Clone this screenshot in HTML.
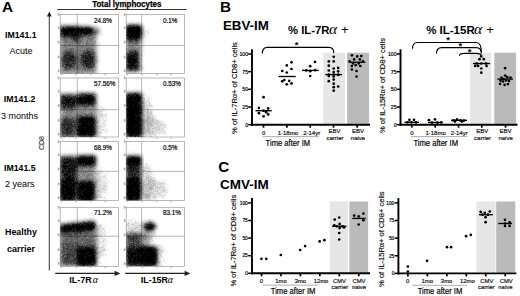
<!DOCTYPE html>
<html><head><meta charset="utf-8"><style>
html,body{margin:0;padding:0;background:#fff;width:520px;height:296px;overflow:hidden}
svg{display:block}

</style></head><body>
<svg width="520" height="296" viewBox="0 0 520 296">
<defs>
<filter id="bl" x="-20%" y="-20%" width="140%" height="140%" color-interpolation-filters="sRGB"><feGaussianBlur in="SourceAlpha" stdDeviation="1.9" result="d"/><feTurbulence type="fractalNoise" baseFrequency="0.9" numOctaves="2" seed="5" result="t"/><feColorMatrix in="t" type="matrix" values="0 0 0 0 0  0 0 0 0 0  0 0 0 0 0  2 0 0 0 -0.5" result="n"/><feComposite in="d" in2="n" operator="arithmetic" k1="1.2" k2="0.8" k3="0" k4="0" result="c"/><feColorMatrix in="c" type="matrix" values="0 0 0 0 0  0 0 0 0 0  0 0 0 0 0  0 0 0 1 0" result="e"/><feGaussianBlur in="e" stdDeviation="0.8" result="eb"/><feComposite in="e" in2="eb" operator="arithmetic" k1="0" k2="0.45" k3="0.55" k4="0"/></filter>
<filter id="sp" x="-20%" y="-20%" width="140%" height="140%" color-interpolation-filters="sRGB"><feGaussianBlur in="SourceAlpha" stdDeviation="2.2" result="d"/><feTurbulence type="fractalNoise" baseFrequency="0.95" numOctaves="2" seed="11" result="t"/><feColorMatrix in="t" type="matrix" values="0 0 0 0 0  0 0 0 0 0  0 0 0 0 0  1.875 0 0 0 -0.5125" result="n"/><feComposite in="d" in2="n" operator="arithmetic" k1="0" k2="4" k3="-4" k4="0" result="c"/><feColorMatrix in="c" type="matrix" values="0 0 0 0 0  0 0 0 0 0  0 0 0 0 0  0 0 0 0.26 0" result="e"/><feGaussianBlur in="e" stdDeviation="0.8" result="eb"/><feComposite in="e" in2="eb" operator="arithmetic" k1="0" k2="0.4" k3="0.9" k4="0"/></filter>
<clipPath id="cp00"><rect x="60.2" y="14.6" width="58.2" height="59.0"/></clipPath>
<clipPath id="cp01"><rect x="126.2" y="14.6" width="58.2" height="59.0"/></clipPath>
<clipPath id="cp10"><rect x="60.2" y="78.0" width="58.2" height="59.0"/></clipPath>
<clipPath id="cp11"><rect x="126.2" y="78.0" width="58.2" height="59.0"/></clipPath>
<clipPath id="cp20"><rect x="60.2" y="141.5" width="58.2" height="59.0"/></clipPath>
<clipPath id="cp21"><rect x="126.2" y="141.5" width="58.2" height="59.0"/></clipPath>
<clipPath id="cp30"><rect x="60.2" y="207.3" width="58.2" height="59.0"/></clipPath>
<clipPath id="cp31"><rect x="126.2" y="207.3" width="58.2" height="59.0"/></clipPath>
</defs>
<rect x="0" y="0" width="520" height="296" fill="#fff"/>
<text x="1.9" y="12.0" font-size="15.3" font-weight="bold" text-anchor="start" fill="#000" font-family="Liberation Sans" >A</text>
<text x="92.2" y="6.7" font-size="8.7" font-weight="bold" text-anchor="start" fill="#000" font-family="Liberation Sans" textLength="69.3" lengthAdjust="spacingAndGlyphs" stroke="#000" stroke-width="0.25">Total lymphocytes</text>
<line x1="57.2" y1="9.5" x2="186.6" y2="9.5" stroke="#333" stroke-width="1"/>
<rect x="60.2" y="14.6" width="58.2" height="59.0" fill="none" stroke="#9a9a9a" stroke-width="0.7"/>
<line x1="77.3" y1="14.6" x2="77.3" y2="73.6" stroke="#9a9a9a" stroke-width="0.7"/>
<line x1="60.2" y1="45.5" x2="118.4" y2="45.5" stroke="#9a9a9a" stroke-width="0.7"/>
<g clip-path="url(#cp00)">
<g filter="url(#sp)">
<rect x="58" y="30" width="39" height="44" fill="#000" opacity="0.38"/>
<ellipse cx="100" cy="38" rx="4" ry="8" fill="#000" opacity="0.3"/>
</g>
<g filter="url(#bl)">
<rect x="60" y="30" width="36" height="44" fill="#000" opacity="0.323"/>
<ellipse cx="69" cy="60" rx="8" ry="9" fill="#000" opacity="0.425"/>
<ellipse cx="88.5" cy="59.6" rx="8" ry="9" fill="#000" opacity="0.468"/>
<rect x="60" y="26.8" width="18" height="7.199999999999999" fill="#000" opacity="1"/>
<rect x="60" y="32" width="18" height="5.5" fill="#000" opacity="0.468"/>
<rect x="78" y="27.3" width="14" height="6.699999999999999" fill="#000" opacity="0.95"/>
<rect x="90" y="28" width="9" height="6" fill="#000" opacity="0.383"/>
<rect x="74" y="33" width="6" height="8" fill="#000" opacity="0.51"/>
</g>
</g>
<text x="94.0" y="22.75" font-size="6.3" font-weight="normal" text-anchor="start" fill="#000" font-family="Liberation Sans" stroke="#000" stroke-width="0.18">24.8%</text>
<rect x="57.800000000000004" y="13.299999999999999" width="1.6" height="2.6" fill="#aaa"/>
<rect x="57.800000000000004" y="26.599999999999998" width="1.6" height="2.6" fill="#aaa"/>
<rect x="57.800000000000004" y="40.800000000000004" width="1.6" height="2.6" fill="#aaa"/>
<rect x="57.800000000000004" y="55.7" width="1.6" height="2.6" fill="#aaa"/>
<rect x="57.800000000000004" y="69.5" width="1.6" height="2.6" fill="#aaa"/>
<rect x="60.7" y="73.89999999999999" width="1.6" height="1.4" fill="#bbb"/>
<rect x="75.3" y="73.89999999999999" width="1.6" height="1.4" fill="#bbb"/>
<rect x="89.9" y="73.89999999999999" width="1.6" height="1.4" fill="#bbb"/>
<rect x="104.5" y="73.89999999999999" width="1.6" height="1.4" fill="#bbb"/>
<rect x="126.2" y="14.6" width="58.2" height="59.0" fill="none" stroke="#9a9a9a" stroke-width="0.7"/>
<line x1="141.6" y1="14.6" x2="141.6" y2="73.6" stroke="#9a9a9a" stroke-width="0.7"/>
<line x1="126.2" y1="45.5" x2="184.4" y2="45.5" stroke="#9a9a9a" stroke-width="0.7"/>
<g clip-path="url(#cp01)">
<g filter="url(#sp)">
<rect x="126" y="36" width="17" height="36" fill="#000" opacity="0.35"/>
<ellipse cx="146" cy="33" rx="5" ry="6" fill="#000" opacity="0.35"/>
</g>
<g filter="url(#bl)">
<rect x="126" y="39" width="15" height="13" fill="#000" opacity="0.297"/>
<rect x="126" y="25.6" width="15.5" height="11.899999999999999" fill="#000" opacity="1"/>
<rect x="126" y="37" width="15" height="4.5" fill="#000" opacity="0.51"/>
<rect x="126" y="51.5" width="13.5" height="19.5" fill="#000" opacity="0.722"/>
<ellipse cx="131.5" cy="60.5" rx="5" ry="6" fill="#000" opacity="0.51"/>
</g>
</g>
<text x="163.0" y="22.75" font-size="6.3" font-weight="normal" text-anchor="start" fill="#000" font-family="Liberation Sans" stroke="#000" stroke-width="0.18">0.1%</text>
<rect x="123.8" y="13.299999999999999" width="1.6" height="2.6" fill="#aaa"/>
<rect x="123.8" y="26.599999999999998" width="1.6" height="2.6" fill="#aaa"/>
<rect x="123.8" y="40.800000000000004" width="1.6" height="2.6" fill="#aaa"/>
<rect x="123.8" y="55.7" width="1.6" height="2.6" fill="#aaa"/>
<rect x="123.8" y="69.5" width="1.6" height="2.6" fill="#aaa"/>
<rect x="126.7" y="73.89999999999999" width="1.6" height="1.4" fill="#bbb"/>
<rect x="141.3" y="73.89999999999999" width="1.6" height="1.4" fill="#bbb"/>
<rect x="155.9" y="73.89999999999999" width="1.6" height="1.4" fill="#bbb"/>
<rect x="170.5" y="73.89999999999999" width="1.6" height="1.4" fill="#bbb"/>
<rect x="60.2" y="78.0" width="58.2" height="59.0" fill="none" stroke="#9a9a9a" stroke-width="0.7"/>
<line x1="77.3" y1="78.0" x2="77.3" y2="137.0" stroke="#9a9a9a" stroke-width="0.7"/>
<line x1="60.2" y1="109.7" x2="118.4" y2="109.7" stroke="#9a9a9a" stroke-width="0.7"/>
<g clip-path="url(#cp10)">
<g filter="url(#sp)">
<rect x="60" y="100" width="39" height="37" fill="#000" opacity="0.4"/>
<ellipse cx="101" cy="122" rx="6" ry="16" fill="#000" opacity="0.42"/>
</g>
<g filter="url(#bl)">
<rect x="60" y="107" width="36" height="30" fill="#000" opacity="0.281"/>
<rect x="60" y="94.5" width="16" height="13.5" fill="#000" opacity="0.722"/>
<rect x="78" y="93.8" width="17.5" height="11.700000000000003" fill="#000" opacity="0.9"/>
<rect x="76" y="96" width="2" height="10" fill="#000" opacity="0.34"/>
<rect x="60" y="118" width="15" height="19" fill="#000" opacity="0.425"/>
<rect x="78" y="117" width="17" height="20" fill="#000" opacity="0.95"/>
</g>
</g>
<text x="94.0" y="86.15" font-size="6.3" font-weight="normal" text-anchor="start" fill="#000" font-family="Liberation Sans" stroke="#000" stroke-width="0.18">57.56%</text>
<rect x="57.800000000000004" y="76.7" width="1.6" height="2.6" fill="#aaa"/>
<rect x="57.800000000000004" y="90.0" width="1.6" height="2.6" fill="#aaa"/>
<rect x="57.800000000000004" y="104.2" width="1.6" height="2.6" fill="#aaa"/>
<rect x="57.800000000000004" y="119.10000000000001" width="1.6" height="2.6" fill="#aaa"/>
<rect x="57.800000000000004" y="132.89999999999998" width="1.6" height="2.6" fill="#aaa"/>
<rect x="60.7" y="137.3" width="1.6" height="1.4" fill="#bbb"/>
<rect x="75.3" y="137.3" width="1.6" height="1.4" fill="#bbb"/>
<rect x="89.9" y="137.3" width="1.6" height="1.4" fill="#bbb"/>
<rect x="104.5" y="137.3" width="1.6" height="1.4" fill="#bbb"/>
<rect x="126.2" y="78.0" width="58.2" height="59.0" fill="none" stroke="#9a9a9a" stroke-width="0.7"/>
<line x1="141.6" y1="78.0" x2="141.6" y2="137.0" stroke="#9a9a9a" stroke-width="0.7"/>
<line x1="126.2" y1="109.7" x2="184.4" y2="109.7" stroke="#9a9a9a" stroke-width="0.7"/>
<g clip-path="url(#cp11)">
<g filter="url(#sp)">
<ellipse cx="146" cy="117" rx="7" ry="22" fill="#000" opacity="0.56"/>
<ellipse cx="153" cy="127" rx="14" ry="11" fill="#000" opacity="0.5"/>
</g>
<g filter="url(#bl)">
<rect x="126" y="93.6" width="15.5" height="43.400000000000006" fill="#000" opacity="1"/>
</g>
</g>
<text x="163.0" y="86.15" font-size="6.3" font-weight="normal" text-anchor="start" fill="#000" font-family="Liberation Sans" stroke="#000" stroke-width="0.18">0.53%</text>
<rect x="123.8" y="76.7" width="1.6" height="2.6" fill="#aaa"/>
<rect x="123.8" y="90.0" width="1.6" height="2.6" fill="#aaa"/>
<rect x="123.8" y="104.2" width="1.6" height="2.6" fill="#aaa"/>
<rect x="123.8" y="119.10000000000001" width="1.6" height="2.6" fill="#aaa"/>
<rect x="123.8" y="132.89999999999998" width="1.6" height="2.6" fill="#aaa"/>
<rect x="126.7" y="137.3" width="1.6" height="1.4" fill="#bbb"/>
<rect x="141.3" y="137.3" width="1.6" height="1.4" fill="#bbb"/>
<rect x="155.9" y="137.3" width="1.6" height="1.4" fill="#bbb"/>
<rect x="170.5" y="137.3" width="1.6" height="1.4" fill="#bbb"/>
<rect x="60.2" y="141.5" width="58.2" height="59.0" fill="none" stroke="#9a9a9a" stroke-width="0.7"/>
<line x1="77.3" y1="141.5" x2="77.3" y2="200.5" stroke="#9a9a9a" stroke-width="0.7"/>
<line x1="60.2" y1="171.4" x2="118.4" y2="171.4" stroke="#9a9a9a" stroke-width="0.7"/>
<g clip-path="url(#cp20)">
<g filter="url(#sp)">
<rect x="60" y="160" width="39" height="41" fill="#000" opacity="0.35"/>
<ellipse cx="101" cy="186" rx="7" ry="16" fill="#000" opacity="0.45"/>
</g>
<g filter="url(#bl)">
<rect x="76" y="166" width="19" height="17" fill="#000" opacity="0.297"/>
<rect x="60" y="156.5" width="17" height="11.0" fill="#000" opacity="0.722"/>
<rect x="78" y="156" width="17.5" height="9.5" fill="#000" opacity="1"/>
<rect x="60" y="166" width="16" height="35" fill="#000" opacity="0.68"/>
<rect x="60" y="180" width="16" height="21" fill="#000" opacity="0.68"/>
<rect x="78" y="182" width="16.5" height="19" fill="#000" opacity="1"/>
</g>
</g>
<text x="94.0" y="149.65" font-size="6.3" font-weight="normal" text-anchor="start" fill="#000" font-family="Liberation Sans" stroke="#000" stroke-width="0.18">68.9%</text>
<rect x="57.800000000000004" y="140.2" width="1.6" height="2.6" fill="#aaa"/>
<rect x="57.800000000000004" y="153.5" width="1.6" height="2.6" fill="#aaa"/>
<rect x="57.800000000000004" y="167.7" width="1.6" height="2.6" fill="#aaa"/>
<rect x="57.800000000000004" y="182.6" width="1.6" height="2.6" fill="#aaa"/>
<rect x="57.800000000000004" y="196.39999999999998" width="1.6" height="2.6" fill="#aaa"/>
<rect x="60.7" y="200.8" width="1.6" height="1.4" fill="#bbb"/>
<rect x="75.3" y="200.8" width="1.6" height="1.4" fill="#bbb"/>
<rect x="89.9" y="200.8" width="1.6" height="1.4" fill="#bbb"/>
<rect x="104.5" y="200.8" width="1.6" height="1.4" fill="#bbb"/>
<rect x="126.2" y="141.5" width="58.2" height="59.0" fill="none" stroke="#9a9a9a" stroke-width="0.7"/>
<line x1="141.6" y1="141.5" x2="141.6" y2="200.5" stroke="#9a9a9a" stroke-width="0.7"/>
<line x1="126.2" y1="171.4" x2="184.4" y2="171.4" stroke="#9a9a9a" stroke-width="0.7"/>
<g clip-path="url(#cp21)">
<g filter="url(#sp)">
<ellipse cx="146" cy="182" rx="7" ry="20" fill="#000" opacity="0.54"/>
<ellipse cx="154" cy="189" rx="14" ry="12" fill="#000" opacity="0.5"/>
</g>
<g filter="url(#bl)">
<rect x="126" y="156.5" width="15" height="9.0" fill="#000" opacity="1"/>
<rect x="126" y="165" width="15" height="15" fill="#000" opacity="0.637"/>
<rect x="126" y="179" width="14.5" height="22" fill="#000" opacity="1"/>
</g>
</g>
<text x="163.0" y="149.65" font-size="6.3" font-weight="normal" text-anchor="start" fill="#000" font-family="Liberation Sans" stroke="#000" stroke-width="0.18">0.5%</text>
<rect x="123.8" y="140.2" width="1.6" height="2.6" fill="#aaa"/>
<rect x="123.8" y="153.5" width="1.6" height="2.6" fill="#aaa"/>
<rect x="123.8" y="167.7" width="1.6" height="2.6" fill="#aaa"/>
<rect x="123.8" y="182.6" width="1.6" height="2.6" fill="#aaa"/>
<rect x="123.8" y="196.39999999999998" width="1.6" height="2.6" fill="#aaa"/>
<rect x="126.7" y="200.8" width="1.6" height="1.4" fill="#bbb"/>
<rect x="141.3" y="200.8" width="1.6" height="1.4" fill="#bbb"/>
<rect x="155.9" y="200.8" width="1.6" height="1.4" fill="#bbb"/>
<rect x="170.5" y="200.8" width="1.6" height="1.4" fill="#bbb"/>
<rect x="60.2" y="207.3" width="58.2" height="59.0" fill="none" stroke="#9a9a9a" stroke-width="0.7"/>
<line x1="77.3" y1="207.3" x2="77.3" y2="266.3" stroke="#9a9a9a" stroke-width="0.7"/>
<line x1="60.2" y1="236.20000000000002" x2="118.4" y2="236.20000000000002" stroke="#9a9a9a" stroke-width="0.7"/>
<g clip-path="url(#cp30)">
<g filter="url(#sp)">
<rect x="60" y="222" width="39" height="44" fill="#000" opacity="0.4"/>
<ellipse cx="101" cy="243" rx="6" ry="20" fill="#000" opacity="0.42"/>
</g>
<g filter="url(#bl)">
<rect x="60" y="231" width="36" height="35" fill="#000" opacity="0.408"/>
<rect x="60" y="245" width="17" height="21" fill="#000" opacity="0.17"/>
<polygon points="60,225 77,223.3 77,231 60,232.2" fill="#000" opacity="0.9"/>
<polygon points="77,223.5 94,221.3 96,229.5 77,231" fill="#000" opacity="1"/>
<rect x="78" y="248" width="17.5" height="18" fill="#000" opacity="0.97"/>
</g>
</g>
<text x="94.0" y="215.45" font-size="6.3" font-weight="normal" text-anchor="start" fill="#000" font-family="Liberation Sans" stroke="#000" stroke-width="0.18">71.2%</text>
<rect x="57.800000000000004" y="206.0" width="1.6" height="2.6" fill="#aaa"/>
<rect x="57.800000000000004" y="219.3" width="1.6" height="2.6" fill="#aaa"/>
<rect x="57.800000000000004" y="233.5" width="1.6" height="2.6" fill="#aaa"/>
<rect x="57.800000000000004" y="248.4" width="1.6" height="2.6" fill="#aaa"/>
<rect x="57.800000000000004" y="262.2" width="1.6" height="2.6" fill="#aaa"/>
<rect x="60.7" y="266.6" width="1.6" height="1.4" fill="#bbb"/>
<rect x="75.3" y="266.6" width="1.6" height="1.4" fill="#bbb"/>
<rect x="89.9" y="266.6" width="1.6" height="1.4" fill="#bbb"/>
<rect x="104.5" y="266.6" width="1.6" height="1.4" fill="#bbb"/>
<rect x="126.2" y="207.3" width="58.2" height="59.0" fill="none" stroke="#9a9a9a" stroke-width="0.7"/>
<line x1="141.6" y1="207.3" x2="141.6" y2="266.3" stroke="#9a9a9a" stroke-width="0.7"/>
<line x1="126.2" y1="236.20000000000002" x2="184.4" y2="236.20000000000002" stroke="#9a9a9a" stroke-width="0.7"/>
<g clip-path="url(#cp31)">
<g filter="url(#sp)">
<rect x="126" y="220" width="30" height="22" fill="#000" opacity="0.5"/>
<ellipse cx="160" cy="255" rx="6" ry="11" fill="#000" opacity="0.42"/>
</g>
<g filter="url(#bl)">
<rect x="126" y="233" width="15" height="33" fill="#000" opacity="0.527"/>
<rect x="126" y="248" width="15" height="18" fill="#000" opacity="0.595"/>
<rect x="141" y="232" width="9" height="15" fill="#000" opacity="0.255"/>
<ellipse cx="149.5" cy="226.6" rx="6" ry="3.4" fill="#000" opacity="1"/>
<rect x="141" y="247" width="16" height="19" fill="#000" opacity="1"/>
</g>
</g>
<text x="163.0" y="215.45" font-size="6.3" font-weight="normal" text-anchor="start" fill="#000" font-family="Liberation Sans" stroke="#000" stroke-width="0.18">83.1%</text>
<rect x="123.8" y="206.0" width="1.6" height="2.6" fill="#aaa"/>
<rect x="123.8" y="219.3" width="1.6" height="2.6" fill="#aaa"/>
<rect x="123.8" y="233.5" width="1.6" height="2.6" fill="#aaa"/>
<rect x="123.8" y="248.4" width="1.6" height="2.6" fill="#aaa"/>
<rect x="123.8" y="262.2" width="1.6" height="2.6" fill="#aaa"/>
<rect x="126.7" y="266.6" width="1.6" height="1.4" fill="#bbb"/>
<rect x="141.3" y="266.6" width="1.6" height="1.4" fill="#bbb"/>
<rect x="155.9" y="266.6" width="1.6" height="1.4" fill="#bbb"/>
<rect x="170.5" y="266.6" width="1.6" height="1.4" fill="#bbb"/>
<line x1="49.3" y1="15" x2="49.3" y2="270.6" stroke="#444" stroke-width="1.1"/>
<path d="M49.3 11.6 L46.9 16.4 L51.7 16.4 Z" fill="#222"/>
<text x="0" y="0" font-size="6.4" font-weight="normal" text-anchor="middle" fill="#000" font-family="Liberation Sans" transform="translate(44.3 143.1) rotate(-90)" textLength="13.9" lengthAdjust="spacingAndGlyphs">CD8</text>
<text x="5" y="37.8" font-size="9.3" font-weight="bold" text-anchor="start" fill="#000" font-family="Liberation Sans" textLength="31.6" lengthAdjust="spacingAndGlyphs">IM141.1</text>
<text x="9.4" y="53.8" font-size="9" font-weight="normal" text-anchor="start" fill="#000" font-family="Liberation Sans" >Acute</text>
<text x="3.8" y="102.3" font-size="9.3" font-weight="bold" text-anchor="start" fill="#000" font-family="Liberation Sans" textLength="31.6" lengthAdjust="spacingAndGlyphs">IM141.2</text>
<text x="1" y="118.5" font-size="9" font-weight="normal" text-anchor="start" fill="#000" font-family="Liberation Sans" >3 months</text>
<text x="4" y="170.6" font-size="9.3" font-weight="bold" text-anchor="start" fill="#000" font-family="Liberation Sans" textLength="31.6" lengthAdjust="spacingAndGlyphs">IM141.5</text>
<text x="5" y="187.1" font-size="9" font-weight="normal" text-anchor="start" fill="#000" font-family="Liberation Sans" >2 years</text>
<text x="5" y="235.3" font-size="9.3" font-weight="bold" text-anchor="start" fill="#000" font-family="Liberation Sans" textLength="31.9" lengthAdjust="spacingAndGlyphs">Healthy</text>
<text x="6.9" y="251.5" font-size="9.3" font-weight="bold" text-anchor="start" fill="#000" font-family="Liberation Sans" textLength="28" lengthAdjust="spacingAndGlyphs">carrier</text>
<line x1="55.2" y1="273.4" x2="116" y2="273.4" stroke="#222" stroke-width="1.2"/>
<path d="M120.4 273.4 L114.6 270.8 L114.6 276 Z" fill="#222"/>
<line x1="125.2" y1="273.4" x2="186" y2="273.4" stroke="#222" stroke-width="1.2"/>
<path d="M190.4 273.4 L184.6 270.8 L184.6 276 Z" fill="#222"/>
<text x="69.2" y="282.5" font-size="8.4" font-weight="bold" text-anchor="start" fill="#000" font-family="Liberation Sans" textLength="22.6" lengthAdjust="spacingAndGlyphs">IL-7R</text>
<text x="92.7" y="282.5" font-size="10" font-weight="normal" text-anchor="start" fill="#000" font-family="Liberation Serif" font-style="italic">α</text>
<text x="140.8" y="282.5" font-size="8.4" font-weight="bold" text-anchor="start" fill="#000" font-family="Liberation Sans" textLength="27.2" lengthAdjust="spacingAndGlyphs">IL-15R</text>
<text x="167.8" y="282.5" font-size="10" font-weight="normal" text-anchor="start" fill="#000" font-family="Liberation Serif" font-style="italic">α</text>
<text x="220.0" y="12.1" font-size="15.3" font-weight="bold" text-anchor="start" fill="#000" font-family="Liberation Sans" >B</text>
<text x="223" y="29.8" font-size="12.2" font-weight="bold" text-anchor="start" fill="#000" font-family="Liberation Sans" textLength="45.8" lengthAdjust="spacingAndGlyphs">EBV-IM</text>
<text x="287.9" y="33.9" font-size="10.8" font-weight="bold" text-anchor="start" fill="#000" font-family="Liberation Sans" textLength="41.6" lengthAdjust="spacingAndGlyphs">% IL-7R</text>
<text x="328.9" y="33.9" font-size="15.5" font-weight="normal" text-anchor="start" fill="#000" font-family="Liberation Serif" font-style="italic">α</text>
<text x="341.1" y="33.9" font-size="13.2" font-weight="normal" text-anchor="start" fill="#000" font-family="Liberation Sans" >+</text>
<text x="426.2" y="33.9" font-size="10.8" font-weight="bold" text-anchor="start" fill="#000" font-family="Liberation Sans" textLength="48.5" lengthAdjust="spacingAndGlyphs">% IL-15R</text>
<text x="474.1" y="33.9" font-size="15.5" font-weight="normal" text-anchor="start" fill="#000" font-family="Liberation Serif" font-style="italic">α</text>
<text x="486.3" y="33.9" font-size="13.2" font-weight="normal" text-anchor="start" fill="#000" font-family="Liberation Sans" >+</text>
<rect x="323.3" y="52.699999999999996" width="21.80000000000001" height="71.2" fill="#e6e6e6"/>
<rect x="347.1" y="52.699999999999996" width="21.899999999999977" height="71.2" fill="#bababa"/>
<line x1="252" y1="49.3" x2="252" y2="125.7" stroke="#000" stroke-width="1.9"/>
<line x1="251" y1="124.7" x2="370" y2="124.7" stroke="#000" stroke-width="1.9"/>
<line x1="248.2" y1="54.0" x2="252" y2="54.0" stroke="#000" stroke-width="1.5"/>
<text x="248.1" y="55.87" font-size="5.2" font-weight="normal" text-anchor="end" fill="#000" font-family="Liberation Sans" stroke="#000" stroke-width="0.18">100</text>
<line x1="248.2" y1="71.675" x2="252" y2="71.675" stroke="#000" stroke-width="1.5"/>
<text x="248.1" y="73.55" font-size="5.2" font-weight="normal" text-anchor="end" fill="#000" font-family="Liberation Sans" stroke="#000" stroke-width="0.18">75</text>
<line x1="248.2" y1="89.35" x2="252" y2="89.35" stroke="#000" stroke-width="1.5"/>
<text x="248.1" y="91.22" font-size="5.2" font-weight="normal" text-anchor="end" fill="#000" font-family="Liberation Sans" stroke="#000" stroke-width="0.18">50</text>
<line x1="248.2" y1="107.025" x2="252" y2="107.025" stroke="#000" stroke-width="1.5"/>
<text x="248.1" y="108.9" font-size="5.2" font-weight="normal" text-anchor="end" fill="#000" font-family="Liberation Sans" stroke="#000" stroke-width="0.18">25</text>
<line x1="248.2" y1="124.7" x2="252" y2="124.7" stroke="#000" stroke-width="1.5"/>
<text x="248.1" y="126.57" font-size="5.2" font-weight="normal" text-anchor="end" fill="#000" font-family="Liberation Sans" stroke="#000" stroke-width="0.18">0</text>
<line x1="263.5" y1="124.7" x2="263.5" y2="127.7" stroke="#000" stroke-width="1.7"/>
<line x1="286.9" y1="124.7" x2="286.9" y2="127.7" stroke="#000" stroke-width="1.7"/>
<line x1="310.25" y1="124.7" x2="310.25" y2="127.7" stroke="#000" stroke-width="1.7"/>
<line x1="333.5" y1="124.7" x2="333.5" y2="127.7" stroke="#000" stroke-width="1.7"/>
<line x1="357.25" y1="124.7" x2="357.25" y2="127.7" stroke="#000" stroke-width="1.7"/>
<text x="0" y="0" font-size="7.6" font-weight="normal" text-anchor="middle" fill="#000" font-family="Liberation Sans" transform="translate(237.3 88) rotate(-90)" stroke="#000" stroke-width="0.126">% of IL-7R<tspan font-family="Liberation Serif">α</tspan>+ of CD8+ cells</text>
<text x="263.6" y="134.8" font-size="6" font-weight="normal" text-anchor="middle" fill="#111" font-family="Liberation Sans" stroke="#111" stroke-width="0.18">0</text>
<text x="287.8" y="134.8" font-size="6" font-weight="normal" text-anchor="middle" fill="#111" font-family="Liberation Sans" stroke="#111" stroke-width="0.18">1-18mo</text>
<text x="311.7" y="134.8" font-size="6" font-weight="normal" text-anchor="middle" fill="#111" font-family="Liberation Sans" stroke="#111" stroke-width="0.18">2-14yr</text>
<text x="334.5" y="132.8" font-size="6" font-weight="normal" text-anchor="middle" fill="#111" font-family="Liberation Sans" stroke="#111" stroke-width="0.18">EBV</text>
<text x="335" y="140.1" font-size="6" font-weight="normal" text-anchor="middle" fill="#111" font-family="Liberation Sans" stroke="#111" stroke-width="0.18">carrier</text>
<text x="358" y="132.8" font-size="6" font-weight="normal" text-anchor="middle" fill="#111" font-family="Liberation Sans" stroke="#111" stroke-width="0.18">EBV</text>
<text x="358" y="140.1" font-size="6" font-weight="normal" text-anchor="middle" fill="#111" font-family="Liberation Sans" stroke="#111" stroke-width="0.18">naive</text>
<line x1="262.5" y1="136.6" x2="318.8" y2="136.6" stroke="#999" stroke-width="0.8"/>
<text x="265.6" y="145.7" font-size="8.4" font-weight="normal" text-anchor="start" fill="#000" font-family="Liberation Sans" textLength="44.6" lengthAdjust="spacingAndGlyphs" stroke="#000" stroke-width="0.18">Time after IM</text>
<rect x="470" y="52.699999999999996" width="21.30000000000001" height="71.2" fill="#e6e6e6"/>
<rect x="494.3" y="52.699999999999996" width="21.80000000000001" height="71.2" fill="#bababa"/>
<line x1="400.5" y1="49.3" x2="400.5" y2="125.7" stroke="#000" stroke-width="1.9"/>
<line x1="399.5" y1="124.7" x2="517.5" y2="124.7" stroke="#000" stroke-width="1.9"/>
<line x1="396.7" y1="54.0" x2="400.5" y2="54.0" stroke="#000" stroke-width="1.5"/>
<text x="396.6" y="55.87" font-size="5.2" font-weight="normal" text-anchor="end" fill="#000" font-family="Liberation Sans" stroke="#000" stroke-width="0.18">100</text>
<line x1="396.7" y1="71.675" x2="400.5" y2="71.675" stroke="#000" stroke-width="1.5"/>
<text x="396.6" y="73.55" font-size="5.2" font-weight="normal" text-anchor="end" fill="#000" font-family="Liberation Sans" stroke="#000" stroke-width="0.18">75</text>
<line x1="396.7" y1="89.35" x2="400.5" y2="89.35" stroke="#000" stroke-width="1.5"/>
<text x="396.6" y="91.22" font-size="5.2" font-weight="normal" text-anchor="end" fill="#000" font-family="Liberation Sans" stroke="#000" stroke-width="0.18">50</text>
<line x1="396.7" y1="107.025" x2="400.5" y2="107.025" stroke="#000" stroke-width="1.5"/>
<text x="396.6" y="108.9" font-size="5.2" font-weight="normal" text-anchor="end" fill="#000" font-family="Liberation Sans" stroke="#000" stroke-width="0.18">25</text>
<line x1="396.7" y1="124.7" x2="400.5" y2="124.7" stroke="#000" stroke-width="1.5"/>
<text x="396.6" y="126.57" font-size="5.2" font-weight="normal" text-anchor="end" fill="#000" font-family="Liberation Sans" stroke="#000" stroke-width="0.18">0</text>
<line x1="411.8" y1="124.7" x2="411.8" y2="127.7" stroke="#000" stroke-width="1.7"/>
<line x1="435.2" y1="124.7" x2="435.2" y2="127.7" stroke="#000" stroke-width="1.7"/>
<line x1="458.55" y1="124.7" x2="458.55" y2="127.7" stroke="#000" stroke-width="1.7"/>
<line x1="481.8" y1="124.7" x2="481.8" y2="127.7" stroke="#000" stroke-width="1.7"/>
<line x1="505.55" y1="124.7" x2="505.55" y2="127.7" stroke="#000" stroke-width="1.7"/>
<text x="0" y="0" font-size="7.5" font-weight="normal" text-anchor="middle" fill="#000" font-family="Liberation Sans" transform="translate(384.6 85.5) rotate(-90)" stroke="#000" stroke-width="0.126">% of IL-15R<tspan font-family="Liberation Serif">α</tspan>+ of CD8+ cells</text>
<text x="411.8" y="134.8" font-size="6" font-weight="normal" text-anchor="middle" fill="#111" font-family="Liberation Sans" stroke="#111" stroke-width="0.18">0</text>
<text x="435.6" y="134.8" font-size="6" font-weight="normal" text-anchor="middle" fill="#111" font-family="Liberation Sans" stroke="#111" stroke-width="0.18">1-18mo</text>
<text x="459.2" y="134.8" font-size="6" font-weight="normal" text-anchor="middle" fill="#111" font-family="Liberation Sans" stroke="#111" stroke-width="0.18">2-14yr</text>
<text x="482.2" y="132.8" font-size="6" font-weight="normal" text-anchor="middle" fill="#111" font-family="Liberation Sans" stroke="#111" stroke-width="0.18">EBV</text>
<text x="482.6" y="140.1" font-size="6" font-weight="normal" text-anchor="middle" fill="#111" font-family="Liberation Sans" stroke="#111" stroke-width="0.18">carrier</text>
<text x="505.6" y="132.8" font-size="6" font-weight="normal" text-anchor="middle" fill="#111" font-family="Liberation Sans" stroke="#111" stroke-width="0.18">EBV</text>
<text x="505.6" y="140.1" font-size="6" font-weight="normal" text-anchor="middle" fill="#111" font-family="Liberation Sans" stroke="#111" stroke-width="0.18">naive</text>
<line x1="410.8" y1="136.6" x2="467.3" y2="136.6" stroke="#999" stroke-width="0.8"/>
<text x="413.4" y="145.7" font-size="8.4" font-weight="normal" text-anchor="start" fill="#000" font-family="Liberation Sans" textLength="44.6" lengthAdjust="spacingAndGlyphs" stroke="#000" stroke-width="0.18">Time after IM</text>
<path d="M262.3 53.6 Q262.3 47.4 267.3 47.4 L328.8 47.4 Q333.8 47.4 333.8 53.0" fill="none" stroke="#000" stroke-width="1.1"/>
<text x="296.5" y="48.0" font-size="9.5" font-weight="bold" text-anchor="middle" fill="#000" font-family="Liberation Sans" >*</text>
<path d="M412.5 48.8 Q412.5 42.5 417.5 42.5 L476.3 42.5 Q481.3 42.5 481.3 52" fill="none" stroke="#000" stroke-width="1.1"/>
<path d="M436.5 53.8 Q436.5 47.6 441.5 47.6 L476.3 47.6 Q481.3 47.6 481.3 53.5" fill="none" stroke="#000" stroke-width="1.1"/>
<path d="M459.4 55.8 Q459.4 53.4 464.4 53.4 L476.3 53.4 Q481.3 53.4 481.3 56" fill="none" stroke="#000" stroke-width="1.1"/>
<text x="448.1" y="43.4" font-size="9.5" font-weight="bold" text-anchor="middle" fill="#000" font-family="Liberation Sans" >*</text>
<text x="460.3" y="48.8" font-size="9.5" font-weight="bold" text-anchor="middle" fill="#000" font-family="Liberation Sans" >*</text>
<text x="469.6" y="54.8" font-size="9.5" font-weight="bold" text-anchor="middle" fill="#000" font-family="Liberation Sans" >*</text>
<circle cx="263.6" cy="97.2" r="1.35" fill="#000"/>
<circle cx="258.9" cy="108" r="1.35" fill="#000"/>
<circle cx="268.2" cy="108.4" r="1.35" fill="#000"/>
<circle cx="263.6" cy="110.7" r="1.35" fill="#000"/>
<circle cx="266.2" cy="112.2" r="1.35" fill="#000"/>
<circle cx="258.9" cy="113.2" r="1.35" fill="#000"/>
<circle cx="268.2" cy="114.4" r="1.35" fill="#000"/>
<circle cx="263.6" cy="116.3" r="1.35" fill="#000"/>
<line x1="255.5" y1="110.7" x2="271.7" y2="110.7" stroke="#000" stroke-width="1.35"/>
<circle cx="291.5" cy="62.3" r="1.35" fill="#000"/>
<circle cx="286.8" cy="65.4" r="1.35" fill="#000"/>
<circle cx="291.5" cy="69" r="1.35" fill="#000"/>
<circle cx="282.3" cy="71" r="1.35" fill="#000"/>
<circle cx="286.8" cy="72.5" r="1.35" fill="#000"/>
<circle cx="282.2" cy="81.3" r="1.35" fill="#000"/>
<circle cx="284.3" cy="80" r="1.35" fill="#000"/>
<circle cx="289.2" cy="80.8" r="1.35" fill="#000"/>
<circle cx="291.5" cy="83.4" r="1.35" fill="#000"/>
<circle cx="286.8" cy="84.3" r="1.35" fill="#000"/>
<line x1="278.5" y1="76.5" x2="295.7" y2="76.5" stroke="#000" stroke-width="1.35"/>
<circle cx="315" cy="61.9" r="1.35" fill="#000"/>
<circle cx="310.2" cy="66.2" r="1.35" fill="#000"/>
<circle cx="306.3" cy="70.4" r="1.35" fill="#000"/>
<circle cx="310.2" cy="71.2" r="1.35" fill="#000"/>
<circle cx="315.2" cy="70.2" r="1.35" fill="#000"/>
<circle cx="310.2" cy="76" r="1.35" fill="#000"/>
<line x1="302" y1="70.4" x2="318.7" y2="70.4" stroke="#000" stroke-width="1.35"/>
<circle cx="333.7" cy="56.8" r="1.35" fill="#000"/>
<circle cx="328.8" cy="61.4" r="1.35" fill="#000"/>
<circle cx="333.7" cy="61.4" r="1.35" fill="#000"/>
<circle cx="328.8" cy="65.7" r="1.35" fill="#000"/>
<circle cx="333.7" cy="68.5" r="1.35" fill="#000"/>
<circle cx="338.2" cy="67.9" r="1.35" fill="#000"/>
<circle cx="328.8" cy="70.5" r="1.35" fill="#000"/>
<circle cx="333.7" cy="72" r="1.35" fill="#000"/>
<circle cx="338.2" cy="71.3" r="1.35" fill="#000"/>
<circle cx="328.8" cy="74.6" r="1.35" fill="#000"/>
<circle cx="333.7" cy="74.6" r="1.35" fill="#000"/>
<circle cx="338.2" cy="74.6" r="1.35" fill="#000"/>
<circle cx="328.8" cy="76.1" r="1.35" fill="#000"/>
<circle cx="333.7" cy="76.6" r="1.35" fill="#000"/>
<circle cx="338.2" cy="75" r="1.35" fill="#000"/>
<circle cx="328.8" cy="81.2" r="1.35" fill="#000"/>
<circle cx="333.7" cy="79.6" r="1.35" fill="#000"/>
<circle cx="333.7" cy="83.7" r="1.35" fill="#000"/>
<circle cx="338.2" cy="86.5" r="1.35" fill="#000"/>
<circle cx="333.7" cy="87.2" r="1.35" fill="#000"/>
<circle cx="333.7" cy="90.7" r="1.35" fill="#000"/>
<line x1="325.3" y1="74.6" x2="342" y2="74.6" stroke="#000" stroke-width="1.35"/>
<circle cx="351.9" cy="55.3" r="1.35" fill="#000"/>
<circle cx="357.2" cy="56.4" r="1.35" fill="#000"/>
<circle cx="361.3" cy="56.1" r="1.35" fill="#000"/>
<circle cx="354.2" cy="59.4" r="1.35" fill="#000"/>
<circle cx="359.8" cy="59.4" r="1.35" fill="#000"/>
<circle cx="349.6" cy="61.4" r="1.35" fill="#000"/>
<circle cx="362.9" cy="61.4" r="1.35" fill="#000"/>
<circle cx="353.1" cy="63.4" r="1.35" fill="#000"/>
<circle cx="358.8" cy="63.4" r="1.35" fill="#000"/>
<circle cx="355.7" cy="65.2" r="1.35" fill="#000"/>
<circle cx="351.9" cy="66" r="1.35" fill="#000"/>
<circle cx="360.3" cy="66" r="1.35" fill="#000"/>
<circle cx="351.9" cy="69.5" r="1.35" fill="#000"/>
<circle cx="356.5" cy="71" r="1.35" fill="#000"/>
<circle cx="356.5" cy="76.6" r="1.35" fill="#000"/>
<line x1="348.9" y1="62.2" x2="365.3" y2="62.2" stroke="#000" stroke-width="1.35"/>
<circle cx="409.4" cy="119.8" r="1.35" fill="#000"/>
<circle cx="414" cy="119.8" r="1.35" fill="#000"/>
<circle cx="407.5" cy="122.3" r="1.35" fill="#000"/>
<circle cx="411.5" cy="122.3" r="1.35" fill="#000"/>
<circle cx="416" cy="122.3" r="1.35" fill="#000"/>
<line x1="404.5" y1="122.3" x2="419" y2="122.3" stroke="#000" stroke-width="1.35"/>
<circle cx="429" cy="120.2" r="1.35" fill="#000"/>
<circle cx="435" cy="119.4" r="1.35" fill="#000"/>
<circle cx="441.2" cy="122.4" r="1.35" fill="#000"/>
<circle cx="432" cy="122.6" r="1.35" fill="#000"/>
<circle cx="437.5" cy="122.6" r="1.35" fill="#000"/>
<line x1="428" y1="122.5" x2="443" y2="122.5" stroke="#000" stroke-width="1.35"/>
<circle cx="453.5" cy="120.4" r="1.35" fill="#000"/>
<circle cx="457" cy="119.4" r="1.35" fill="#000"/>
<circle cx="460.5" cy="120.4" r="1.35" fill="#000"/>
<circle cx="464" cy="120.6" r="1.35" fill="#000"/>
<circle cx="455" cy="121.6" r="1.35" fill="#000"/>
<circle cx="462" cy="121.6" r="1.35" fill="#000"/>
<line x1="451" y1="120.3" x2="467" y2="120.3" stroke="#000" stroke-width="1.35"/>
<circle cx="481.3" cy="56.4" r="1.35" fill="#000"/>
<circle cx="479.5" cy="59.2" r="1.35" fill="#000"/>
<circle cx="483.8" cy="59.2" r="1.35" fill="#000"/>
<circle cx="476.7" cy="63.5" r="1.35" fill="#000"/>
<circle cx="481.3" cy="63.5" r="1.35" fill="#000"/>
<circle cx="485.9" cy="63.5" r="1.35" fill="#000"/>
<circle cx="475.2" cy="65.9" r="1.35" fill="#000"/>
<circle cx="478.1" cy="65.9" r="1.35" fill="#000"/>
<circle cx="486.6" cy="65.9" r="1.35" fill="#000"/>
<circle cx="481.3" cy="68.5" r="1.35" fill="#000"/>
<circle cx="481.3" cy="72.7" r="1.35" fill="#000"/>
<line x1="473.1" y1="63.5" x2="490.1" y2="63.5" stroke="#000" stroke-width="1.35"/>
<circle cx="505.1" cy="68.2" r="1.35" fill="#000"/>
<circle cx="505.1" cy="75.6" r="1.35" fill="#000"/>
<circle cx="501.5" cy="77.7" r="1.35" fill="#000"/>
<circle cx="503.5" cy="79.1" r="1.35" fill="#000"/>
<circle cx="507.2" cy="77.2" r="1.35" fill="#000"/>
<circle cx="510.5" cy="77.5" r="1.35" fill="#000"/>
<circle cx="506" cy="80.5" r="1.35" fill="#000"/>
<circle cx="500.5" cy="80.5" r="1.35" fill="#000"/>
<circle cx="509" cy="81" r="1.35" fill="#000"/>
<circle cx="503" cy="81.5" r="1.35" fill="#000"/>
<circle cx="500.1" cy="83.8" r="1.35" fill="#000"/>
<circle cx="504.6" cy="84.8" r="1.35" fill="#000"/>
<circle cx="507.9" cy="84.1" r="1.35" fill="#000"/>
<line x1="497.5" y1="79.1" x2="512.9" y2="79.1" stroke="#000" stroke-width="1.35"/>
<text x="218.2" y="172.3" font-size="15.2" font-weight="bold" text-anchor="start" fill="#000" font-family="Liberation Sans" >C</text>
<text x="220" y="189" font-size="12.2" font-weight="bold" text-anchor="start" fill="#000" font-family="Liberation Sans" textLength="48.6" lengthAdjust="spacingAndGlyphs">CMV-IM</text>
<rect x="329.8" y="201.5" width="18.30000000000001" height="71.00000000000001" fill="#e6e6e6"/>
<rect x="349.4" y="201.5" width="18.700000000000045" height="71.00000000000001" fill="#bababa"/>
<line x1="252" y1="198.1" x2="252" y2="274.3" stroke="#000" stroke-width="1.9"/>
<line x1="251" y1="273.3" x2="370" y2="273.3" stroke="#000" stroke-width="1.9"/>
<line x1="248.2" y1="202.9" x2="252" y2="202.9" stroke="#000" stroke-width="1.5"/>
<text x="247.8" y="204.63" font-size="4.8" font-weight="normal" text-anchor="end" fill="#000" font-family="Liberation Sans" stroke="#000" stroke-width="0.18">100</text>
<line x1="248.2" y1="220.5" x2="252" y2="220.5" stroke="#000" stroke-width="1.5"/>
<text x="247.8" y="222.23" font-size="4.8" font-weight="normal" text-anchor="end" fill="#000" font-family="Liberation Sans" stroke="#000" stroke-width="0.18">75</text>
<line x1="248.2" y1="238.10000000000002" x2="252" y2="238.10000000000002" stroke="#000" stroke-width="1.5"/>
<text x="247.8" y="239.83" font-size="4.8" font-weight="normal" text-anchor="end" fill="#000" font-family="Liberation Sans" stroke="#000" stroke-width="0.18">50</text>
<line x1="248.2" y1="255.70000000000002" x2="252" y2="255.70000000000002" stroke="#000" stroke-width="1.5"/>
<text x="247.8" y="257.43" font-size="4.8" font-weight="normal" text-anchor="end" fill="#000" font-family="Liberation Sans" stroke="#000" stroke-width="0.18">25</text>
<line x1="248.2" y1="273.3" x2="252" y2="273.3" stroke="#000" stroke-width="1.5"/>
<text x="247.8" y="275.03" font-size="4.8" font-weight="normal" text-anchor="end" fill="#000" font-family="Liberation Sans" stroke="#000" stroke-width="0.18">0</text>
<line x1="261.5" y1="273.3" x2="261.5" y2="276.3" stroke="#000" stroke-width="1.7"/>
<line x1="280.95" y1="273.3" x2="280.95" y2="276.3" stroke="#000" stroke-width="1.7"/>
<line x1="300.4" y1="273.3" x2="300.4" y2="276.3" stroke="#000" stroke-width="1.7"/>
<line x1="319.85" y1="273.3" x2="319.85" y2="276.3" stroke="#000" stroke-width="1.7"/>
<line x1="339.3" y1="273.3" x2="339.3" y2="276.3" stroke="#000" stroke-width="1.7"/>
<line x1="358.75" y1="273.3" x2="358.75" y2="276.3" stroke="#000" stroke-width="1.7"/>
<text x="0" y="0" font-size="7.6" font-weight="normal" text-anchor="middle" fill="#000" font-family="Liberation Sans" transform="translate(235.8 240.7) rotate(-90)" stroke="#000" stroke-width="0.126">% of IL-7R<tspan font-family="Liberation Serif">α</tspan>+ of CD8+ cells</text>
<text x="261.4" y="282.6" font-size="5.9" font-weight="normal" text-anchor="middle" fill="#111" font-family="Liberation Sans" stroke="#111" stroke-width="0.18">0</text>
<text x="281" y="282.6" font-size="5.9" font-weight="normal" text-anchor="middle" fill="#111" font-family="Liberation Sans" stroke="#111" stroke-width="0.18">1mo</text>
<text x="300.4" y="282.6" font-size="5.9" font-weight="normal" text-anchor="middle" fill="#111" font-family="Liberation Sans" stroke="#111" stroke-width="0.18">3mo</text>
<text x="321" y="282.6" font-size="5.9" font-weight="normal" text-anchor="middle" fill="#111" font-family="Liberation Sans" stroke="#111" stroke-width="0.18">12mo</text>
<text x="339.5" y="282.7" font-size="5.9" font-weight="normal" text-anchor="middle" fill="#111" font-family="Liberation Sans" stroke="#111" stroke-width="0.18">CMV</text>
<text x="339.8" y="289" font-size="5.9" font-weight="normal" text-anchor="middle" fill="#111" font-family="Liberation Sans" stroke="#111" stroke-width="0.18">carrier</text>
<text x="359" y="282.7" font-size="5.9" font-weight="normal" text-anchor="middle" fill="#111" font-family="Liberation Sans" stroke="#111" stroke-width="0.18">CMV</text>
<text x="359" y="289" font-size="5.9" font-weight="normal" text-anchor="middle" fill="#111" font-family="Liberation Sans" stroke="#111" stroke-width="0.18">naive</text>
<line x1="262.5" y1="285.1" x2="318" y2="285.1" stroke="#999" stroke-width="0.8"/>
<text x="270.8" y="293.8" font-size="8.4" font-weight="normal" text-anchor="start" fill="#000" font-family="Liberation Sans" textLength="44.6" lengthAdjust="spacingAndGlyphs" stroke="#000" stroke-width="0.18">Time after IM</text>
<rect x="476.3" y="201.5" width="19.19999999999999" height="71.09999999999998" fill="#e6e6e6"/>
<rect x="496.2" y="201.5" width="19.099999999999966" height="71.09999999999998" fill="#bababa"/>
<line x1="398.4" y1="198.1" x2="398.4" y2="274.4" stroke="#000" stroke-width="1.9"/>
<line x1="397.4" y1="273.4" x2="516.3" y2="273.4" stroke="#000" stroke-width="1.9"/>
<line x1="394.59999999999997" y1="202.9" x2="398.4" y2="202.9" stroke="#000" stroke-width="1.5"/>
<text x="394.3" y="204.63" font-size="4.8" font-weight="normal" text-anchor="end" fill="#000" font-family="Liberation Sans" stroke="#000" stroke-width="0.18">100</text>
<line x1="394.59999999999997" y1="220.525" x2="398.4" y2="220.525" stroke="#000" stroke-width="1.5"/>
<text x="394.3" y="222.25" font-size="4.8" font-weight="normal" text-anchor="end" fill="#000" font-family="Liberation Sans" stroke="#000" stroke-width="0.18">75</text>
<line x1="394.59999999999997" y1="238.14999999999998" x2="398.4" y2="238.14999999999998" stroke="#000" stroke-width="1.5"/>
<text x="394.3" y="239.88" font-size="4.8" font-weight="normal" text-anchor="end" fill="#000" font-family="Liberation Sans" stroke="#000" stroke-width="0.18">50</text>
<line x1="394.59999999999997" y1="255.77499999999998" x2="398.4" y2="255.77499999999998" stroke="#000" stroke-width="1.5"/>
<text x="394.3" y="257.5" font-size="4.8" font-weight="normal" text-anchor="end" fill="#000" font-family="Liberation Sans" stroke="#000" stroke-width="0.18">25</text>
<line x1="394.59999999999997" y1="273.4" x2="398.4" y2="273.4" stroke="#000" stroke-width="1.5"/>
<text x="394.3" y="275.13" font-size="4.8" font-weight="normal" text-anchor="end" fill="#000" font-family="Liberation Sans" stroke="#000" stroke-width="0.18">0</text>
<line x1="407.9" y1="273.4" x2="407.9" y2="276.4" stroke="#000" stroke-width="1.7"/>
<line x1="427.37" y1="273.4" x2="427.37" y2="276.4" stroke="#000" stroke-width="1.7"/>
<line x1="446.84" y1="273.4" x2="446.84" y2="276.4" stroke="#000" stroke-width="1.7"/>
<line x1="466.30999999999995" y1="273.4" x2="466.30999999999995" y2="276.4" stroke="#000" stroke-width="1.7"/>
<line x1="485.78" y1="273.4" x2="485.78" y2="276.4" stroke="#000" stroke-width="1.7"/>
<line x1="505.25" y1="273.4" x2="505.25" y2="276.4" stroke="#000" stroke-width="1.7"/>
<text x="0" y="0" font-size="7.55" font-weight="normal" text-anchor="middle" fill="#000" font-family="Liberation Sans" transform="translate(384.3 239.2) rotate(-90)" stroke="#000" stroke-width="0.126">% of IL-15R<tspan font-family="Liberation Serif">α</tspan>+ of CD8+ cells</text>
<text x="407.6" y="282.6" font-size="5.9" font-weight="normal" text-anchor="middle" fill="#111" font-family="Liberation Sans" stroke="#111" stroke-width="0.18">0</text>
<text x="427.2" y="282.6" font-size="5.9" font-weight="normal" text-anchor="middle" fill="#111" font-family="Liberation Sans" stroke="#111" stroke-width="0.18">1mo</text>
<text x="446.6" y="282.6" font-size="5.9" font-weight="normal" text-anchor="middle" fill="#111" font-family="Liberation Sans" stroke="#111" stroke-width="0.18">3mo</text>
<text x="467.4" y="282.6" font-size="5.9" font-weight="normal" text-anchor="middle" fill="#111" font-family="Liberation Sans" stroke="#111" stroke-width="0.18">12mo</text>
<text x="486.8" y="282.7" font-size="5.9" font-weight="normal" text-anchor="middle" fill="#111" font-family="Liberation Sans" stroke="#111" stroke-width="0.18">CMV</text>
<text x="486.4" y="289" font-size="5.9" font-weight="normal" text-anchor="middle" fill="#111" font-family="Liberation Sans" stroke="#111" stroke-width="0.18">carrier</text>
<text x="506.2" y="282.7" font-size="5.9" font-weight="normal" text-anchor="middle" fill="#111" font-family="Liberation Sans" stroke="#111" stroke-width="0.18">CMV</text>
<text x="505.4" y="289" font-size="5.9" font-weight="normal" text-anchor="middle" fill="#111" font-family="Liberation Sans" stroke="#111" stroke-width="0.18">naive</text>
<line x1="412.4" y1="285.3" x2="466.9" y2="285.3" stroke="#999" stroke-width="0.8"/>
<text x="417.7" y="293.9" font-size="8.4" font-weight="normal" text-anchor="start" fill="#000" font-family="Liberation Sans" textLength="44.6" lengthAdjust="spacingAndGlyphs" stroke="#000" stroke-width="0.18">Time after IM</text>
<circle cx="261.4" cy="258.8" r="1.35" fill="#000"/>
<circle cx="266.3" cy="258.8" r="1.35" fill="#000"/>
<circle cx="280.8" cy="255" r="1.35" fill="#000"/>
<circle cx="300.2" cy="250" r="1.35" fill="#000"/>
<circle cx="305.1" cy="246.1" r="1.35" fill="#000"/>
<circle cx="319.6" cy="241.4" r="1.35" fill="#000"/>
<circle cx="324.4" cy="240.2" r="1.35" fill="#000"/>
<circle cx="334.7" cy="219.6" r="1.35" fill="#000"/>
<circle cx="339.2" cy="217.5" r="1.35" fill="#000"/>
<circle cx="334.3" cy="225.3" r="1.35" fill="#000"/>
<circle cx="336.8" cy="226.3" r="1.35" fill="#000"/>
<circle cx="339.6" cy="223.9" r="1.35" fill="#000"/>
<circle cx="342.4" cy="226.3" r="1.35" fill="#000"/>
<circle cx="339.6" cy="228.1" r="1.35" fill="#000"/>
<circle cx="344" cy="227.5" r="1.35" fill="#000"/>
<circle cx="339.2" cy="233" r="1.35" fill="#000"/>
<circle cx="339.2" cy="239.5" r="1.35" fill="#000"/>
<line x1="332.3" y1="226.3" x2="346.3" y2="226.3" stroke="#000" stroke-width="1.35"/>
<circle cx="354.2" cy="215.6" r="1.35" fill="#000"/>
<circle cx="358.7" cy="216.3" r="1.35" fill="#000"/>
<circle cx="363.4" cy="213.5" r="1.35" fill="#000"/>
<circle cx="363.4" cy="220.2" r="1.35" fill="#000"/>
<circle cx="358.7" cy="224.5" r="1.35" fill="#000"/>
<line x1="352.4" y1="218.4" x2="365.8" y2="218.4" stroke="#000" stroke-width="1.35"/>
<circle cx="407.9" cy="266.5" r="1.35" fill="#000"/>
<circle cx="407.9" cy="271.6" r="1.35" fill="#000"/>
<circle cx="427.1" cy="260.8" r="1.35" fill="#000"/>
<circle cx="447" cy="247.2" r="1.35" fill="#000"/>
<circle cx="451.1" cy="247.2" r="1.35" fill="#000"/>
<circle cx="466.1" cy="236.2" r="1.35" fill="#000"/>
<circle cx="470.8" cy="234.9" r="1.35" fill="#000"/>
<circle cx="480.7" cy="211.9" r="1.35" fill="#000"/>
<circle cx="484.8" cy="212.8" r="1.35" fill="#000"/>
<circle cx="489.8" cy="211.5" r="1.35" fill="#000"/>
<circle cx="482.5" cy="214.7" r="1.35" fill="#000"/>
<circle cx="488" cy="214.7" r="1.35" fill="#000"/>
<circle cx="485.6" cy="217.2" r="1.35" fill="#000"/>
<circle cx="485.6" cy="222.2" r="1.35" fill="#000"/>
<line x1="478.9" y1="214.7" x2="492.9" y2="214.7" stroke="#000" stroke-width="1.35"/>
<circle cx="505" cy="219.8" r="1.35" fill="#000"/>
<circle cx="505" cy="223.5" r="1.35" fill="#000"/>
<circle cx="505" cy="226" r="1.35" fill="#000"/>
<circle cx="509.6" cy="222.3" r="1.35" fill="#000"/>
<circle cx="509.6" cy="225.8" r="1.35" fill="#000"/>
<line x1="498.3" y1="223.5" x2="512" y2="223.5" stroke="#000" stroke-width="1.35"/>
</svg>
</body></html>
